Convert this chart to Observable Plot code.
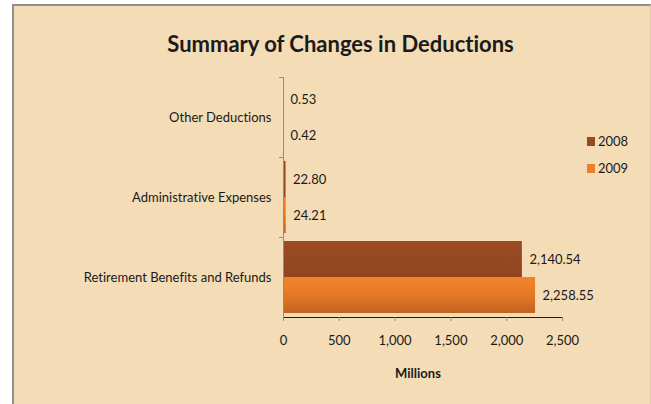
<!DOCTYPE html>
<html>
<head>
<meta charset="utf-8">
<script src="https://cdn.jsdelivr.net/npm/d3@7"></script>
<script src="https://cdn.jsdelivr.net/npm/@observablehq/plot@0.6"></script>
<style>
  html, body { margin: 0; padding: 0; background: #ffffff; }
  body { width: 651px; height: 404px; position: relative; overflow: hidden; font-family: Lato, "Open Sans", sans-serif; color: #1a1a1a; font-variant-ligatures: none; }
  svg text { font-variant-ligatures: none; }
  #panel { position: absolute; left: 12px; top: 4px; width: 639px; height: 410px; background: #F3DCB6;
           border-left: 2px solid #8f8f8f; border-top: 2px solid #8f8f8f; border-right: 1px solid #e2c9a2; box-sizing: border-box; }
  #title { position: absolute; left: 0; top: 30px; width: 681px; text-align: center; font-weight: 700; font-size: 22px; line-height: 28px; }
  #chart { position: absolute; left: 0; top: 0; }
  #xlabel { position: absolute; left: 368px; width: 100px; text-align: center; top: 365px; font-weight: 700; font-size: 13px; }
  .leg { position: absolute; left: 587px; font-size: 13px; line-height: 16px; }
  .leg span.sw { position: absolute; left: 0; top: 4px; width: 8px; height: 9px; }
  .leg span.tx { position: absolute; left: 11px; top: 0; }
</style>
</head>
<body>
<div id="panel"></div>
<div id="title">Summary of Changes in Deductions</div>
<div id="chart"></div>
<div id="xlabel">Millions</div>
<div id="legend"></div>
<script>
// ---- data ----
const categories = ["Other Deductions", "Administrative Expenses", "Retirement Benefits and Refunds"];
const years = ["2008", "2009"];
const values2008 = [0.53, 22.80, 2140.54];
const values2009 = [0.42, 24.21, 2258.55];
const xTicks = [0, 500, 1000, 1500, 2000, 2500];
const yearColors = ["#964A23", "#EC7F2A"];

const rows = [];
categories.forEach((c, i) => {
  rows.push({category: c, year: years[0], value: values2008[i]});
  rows.push({category: c, year: years[1], value: values2009[i]});
});

const fmt = d3.format(",.2f");

// gradient defs
const defsMark = () => {
  const defs = d3.create("svg:defs");
  const g1 = defs.append("linearGradient").attr("id", "g2008").attr("x1", 0).attr("y1", 0).attr("x2", 0).attr("y2", 1);
  g1.append("stop").attr("offset", "0%").attr("stop-color", "#9A4C24");
  g1.append("stop").attr("offset", "100%").attr("stop-color", "#8F4520");
  const g2 = defs.append("linearGradient").attr("id", "g2009").attr("x1", 0).attr("y1", 0).attr("x2", 0).attr("y2", 1);
  g2.append("stop").attr("offset", "0%").attr("stop-color", "#F0842A");
  g2.append("stop").attr("offset", "45%").attr("stop-color", "#E87A27");
  g2.append("stop").attr("offset", "100%").attr("stop-color", "#C2621F");
  return defs.node();
};

const chart = Plot.plot({
  width: 651,
  height: 390,
  marginLeft: 283,
  marginRight: 89,
  marginTop: 77,
  marginBottom: 73,
  style: {background: "transparent", fontFamily: "Lato, sans-serif", fontSize: "13px", color: "#1a1a1a", overflow: "visible"},
  x: {domain: [0, 2500], ticks: xTicks, tickFormat: d3.format(","), tickSize: 4, tickPadding: 14, label: null, line: true},
  y: {domain: years, paddingOuter: 0.1, paddingInner: 0, axis: null},
  fy: {domain: categories, padding: 0, label: null, tickSize: 0, tickPadding: 12},
  color: {domain: years, range: ["url(#g2008)", "url(#g2009)"]},
  marks: [
    defsMark,
    Plot.barX(rows, {x: "value", y: "year", fy: "category", fill: "year"}),
    Plot.ruleX([0], {stroke: "#8f8f8f"}),
    Plot.frame({anchor: "top", insetLeft: -4, insetRight: 279, stroke: "#8f8f8f"}),
    Plot.text(rows, {x: "value", y: "year", fy: "category", text: d => fmt(d.value), textAnchor: "start", dx: 7, fill: "#1a1a1a"})
  ]
});
chart.querySelectorAll('[aria-label="x-axis"] path, [aria-label="x-axis tick"] path, [aria-label="x-axis"] line').forEach(e => e.setAttribute("stroke", "#8f8f8f"));
document.getElementById("chart").appendChild(chart);

// legend
const legend = document.getElementById("legend");
const legTops = [133, 160];
years.forEach((y, i) => {
  const d = document.createElement("div");
  d.className = "leg";
  d.style.top = legTops[i] + "px";
  d.innerHTML = `<span class="sw" style="background:${yearColors[i]}"></span><span class="tx">${y}</span>`;
  legend.appendChild(d);
});
</script>
</body>
</html>
